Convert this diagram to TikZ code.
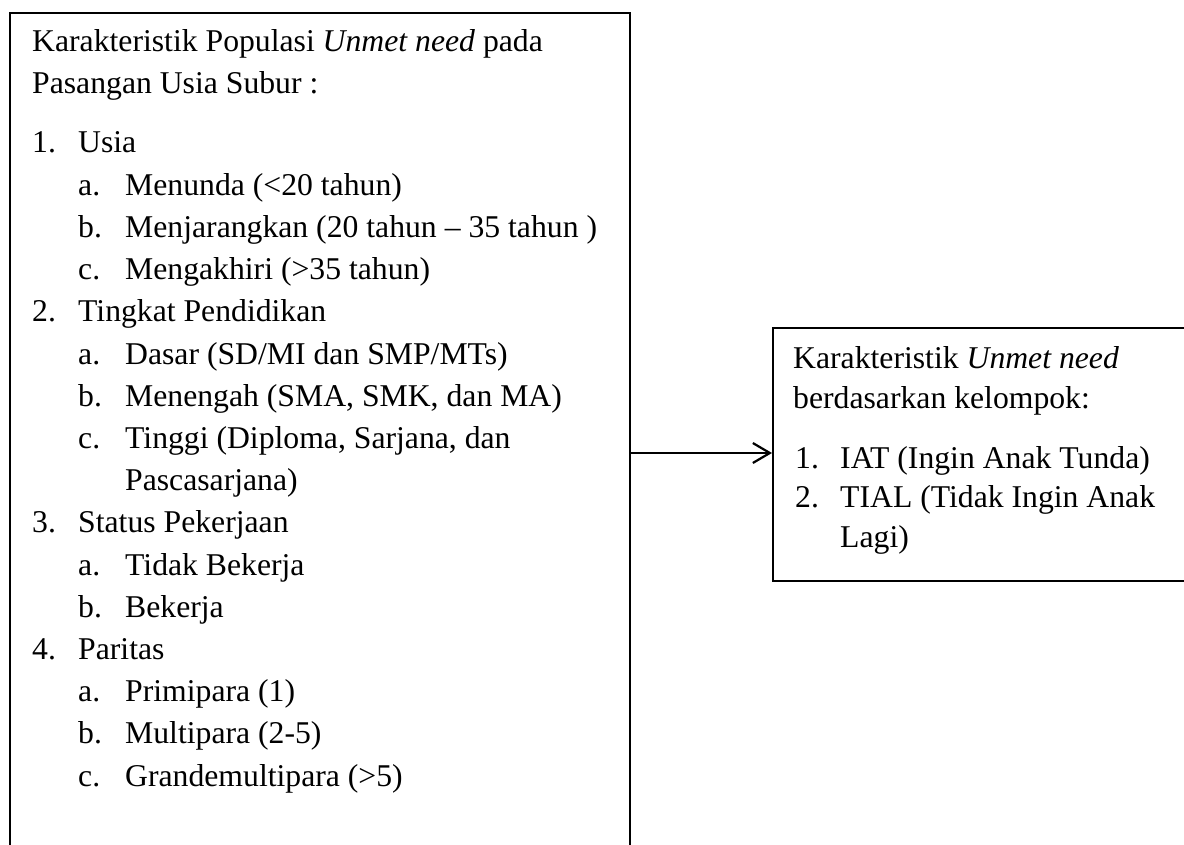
\documentclass[tikz,border=0pt]{standalone}
\usepackage{fontspec}
\setmainfont{Liberation Serif}
\usetikzlibrary{arrows.meta}
\begin{document}
\begin{tikzpicture}[x=1pt,y=-1pt,
  txt/.style={anchor=base west,inner sep=0pt,font=\fontsize{31.7}{42}\selectfont},
  boxframe/.style={draw,line width=2pt,rectangle,inner sep=0pt,anchor=north west},
  conn/.style={line width=2.2pt,-{Straight Barb[length=17pt,width=20pt,line width=2.2pt]}}]
\useasboundingbox (0,0) rectangle (1184,845);
% boxes (both run past the page edge, as in the reference)
\node[boxframe,minimum width=620pt,minimum height=900pt] (leftbox) at (9,12) {};
\node[boxframe,minimum width=500pt,minimum height=253pt] (rightbox) at (772,327) {};
% left box text
\node[txt] (t1) at (32,52) {Karakteristik Populasi \textit{Unmet need} pada};
\node[txt] (t2) at (32,93.5) {Pasangan Usia Subur :};
\node[txt] (n1) at (32,153) {1.};
\node[txt] (i1) at (78,153) {Usia};
\node[txt] (n1a) at (78,195.2) {a.};
\node[txt] (i1a) at (125,195.2) {Menunda (<20 tahun)};
\node[txt] (n1b) at (78,237.4) {b.};
\node[txt] (i1b) at (125,237.4) {Menjarangkan (20 tahun – 35 tahun )};
\node[txt] (n1c) at (78,279.6) {c.};
\node[txt] (i1c) at (125,279.6) {Mengakhiri (>35 tahun)};
\node[txt] (n2) at (32,321.8) {2.};
\node[txt] (i2) at (78,321.8) {Tingkat Pendidikan};
\node[txt] (n2a) at (78,364) {a.};
\node[txt] (i2a) at (125,364) {Dasar (SD/MI dan SMP/MTs)};
\node[txt] (n2b) at (78,406.2) {b.};
\node[txt] (i2b) at (125,406.2) {Menengah (SMA, SMK, dan MA)};
\node[txt] (n2c) at (78,448.4) {c.};
\node[txt] (i2c) at (125,448.4) {Tinggi (Diploma, Sarjana, dan};
\node[txt] (i2c2) at (125,490.6) {Pascasarjana)};
\node[txt] (n3) at (32,532.8) {3.};
\node[txt] (i3) at (78,532.8) {Status Pekerjaan};
\node[txt] (n3a) at (78,575) {a.};
\node[txt] (i3a) at (125,575) {Tidak Bekerja};
\node[txt] (n3b) at (78,617.2) {b.};
\node[txt] (i3b) at (125,617.2) {Bekerja};
\node[txt] (n4) at (32,659.4) {4.};
\node[txt] (i4) at (78,659.4) {Paritas};
\node[txt] (n4a) at (78,701.6) {a.};
\node[txt] (i4a) at (125,701.6) {Primipara (1)};
\node[txt] (n4b) at (78,743.8) {b.};
\node[txt] (i4b) at (125,743.8) {Multipara (2-5)};
\node[txt] (n4c) at (78,786) {c.};
\node[txt] (i4c) at (125,786) {Grandemultipara (>5)};
% right box text
\node[txt] (r1) at (793,368) {Karakteristik \textit{Unmet need}};
\node[txt] (r2) at (793,408) {berdasarkan kelompok:};
\node[txt] (rn1) at (795,468) {1.};
\node[txt] (ri1) at (840,468) {IAT (Ingin Anak Tunda)};
\node[txt] (rn2) at (795,507.5) {2.};
\node[txt] (ri2) at (840,507.5) {TIAL (Tidak Ingin Anak};
\node[txt] (ri22) at (840,547) {Lagi)};
% connector
\coordinate (ay) at (0,453);
\draw[conn] (leftbox.east |- ay) -- (rightbox.west |- ay);
\end{tikzpicture}
\end{document}
